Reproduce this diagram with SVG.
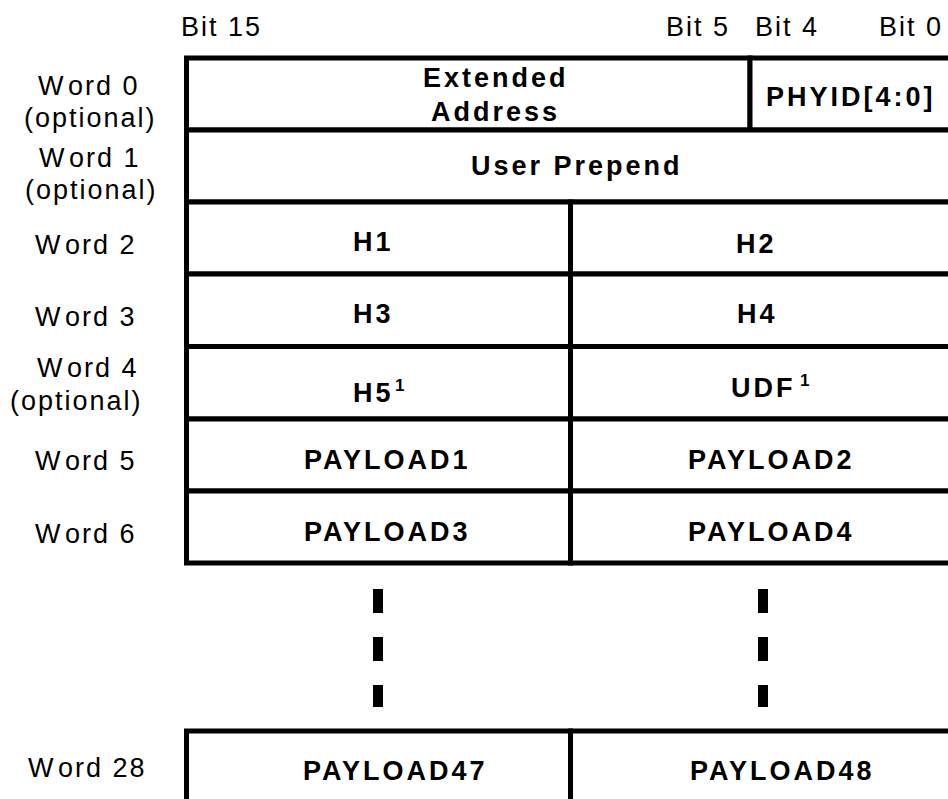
<svg xmlns="http://www.w3.org/2000/svg" width="948" height="799" viewBox="0 0 948 799">
<style>
  .cell { fill: #ffffff; stroke: #000000; stroke-width: 5; }
  .lbl { font-family: "Liberation Sans", Arial, sans-serif; font-size: 27px; letter-spacing: 2px; fill: #000; }
  .fld { font-family: "Liberation Sans", Arial, sans-serif; font-size: 27px; font-weight: bold; letter-spacing: 3px; fill: #000; }
  .sup { font-family: "Liberation Sans", Arial, sans-serif; font-size: 17px; font-weight: bold; fill: #000; }
  .dash { fill: #000; }
</style>
<rect x="0" y="0" width="948" height="799" fill="#ffffff"/>

<g id="bit-labels">
  <text class="lbl" x="181" y="36">Bit 15</text>
  <text class="lbl" x="666" y="36">Bit 5</text>
  <text class="lbl" x="755" y="36">Bit 4</text>
  <text class="lbl" x="879" y="36">Bit 0</text>
</g>

<g id="word-labels">
  <text class="lbl" x="38" y="95">W<tspan dx="3">ord 0</tspan></text>
  <text class="lbl" x="24" y="127">(optional)</text>
  <text class="lbl" x="39" y="167">W<tspan dx="3">ord 1</tspan></text>
  <text class="lbl" x="25" y="199">(optional)</text>
  <text class="lbl" x="35" y="254">W<tspan dx="3">ord 2</tspan></text>
  <text class="lbl" x="35" y="326">W<tspan dx="3">ord 3</tspan></text>
  <text class="lbl" x="37" y="377">W<tspan dx="3">ord 4</tspan></text>
  <text class="lbl" x="10" y="410">(optional)</text>
  <text class="lbl" x="35" y="470">W<tspan dx="3">ord 5</tspan></text>
  <text class="lbl" x="35" y="543">W<tspan dx="3">ord 6</tspan></text>
  <text class="lbl" x="28" y="777">W<tspan dx="3">ord 28</tspan></text>
</g>

<g id="word0-ext">
  <rect class="cell" x="186.5" y="58" width="563.5" height="72"/>
  <text class="fld" x="423" y="87">Extended</text>
  <text class="fld" x="431" y="121">Address</text>
</g>
<g id="word0-phyid">
  <rect class="cell" x="750" y="58" width="215" height="72"/>
  <text class="fld" x="766" y="106">PHYID[4:0]</text>
</g>
<g id="word1-user">
  <rect class="cell" x="186.5" y="130" width="778.5" height="72"/>
  <text class="fld" x="471" y="175">User Prepend</text>
</g>
<g id="word2-h1">
  <rect class="cell" x="186.5" y="202" width="384" height="72"/>
  <text class="fld" x="353" y="251">H1</text>
</g>
<g id="word2-h2">
  <rect class="cell" x="570.5" y="202" width="394.5" height="72"/>
  <text class="fld" x="736" y="253">H2</text>
</g>
<g id="word3-h3">
  <rect class="cell" x="186.5" y="274" width="384" height="72.5"/>
  <text class="fld" x="353" y="323">H3</text>
</g>
<g id="word3-h4">
  <rect class="cell" x="570.5" y="274" width="394.5" height="72.5"/>
  <text class="fld" x="737" y="323">H4</text>
</g>
<g id="word4-h5">
  <rect class="cell" x="186.5" y="346.5" width="384" height="72.5"/>
  <text class="fld" x="353" y="402">H5</text>
  <text class="sup" x="395" y="391">1</text>
</g>
<g id="word4-udf">
  <rect class="cell" x="570.5" y="346.5" width="394.5" height="72.5"/>
  <text class="fld" x="731" y="397">UDF</text>
  <text class="sup" x="800" y="386">1</text>
</g>
<g id="word5-p1">
  <rect class="cell" x="186.5" y="419" width="384" height="72"/>
  <text class="fld" x="304" y="469">PAYLOAD1</text>
</g>
<g id="word5-p2">
  <rect class="cell" x="570.5" y="419" width="394.5" height="72"/>
  <text class="fld" x="688" y="469">PAYLOAD2</text>
</g>
<g id="word6-p3">
  <rect class="cell" x="186.5" y="491" width="384" height="72"/>
  <text class="fld" x="304" y="541">PAYLOAD3</text>
</g>
<g id="word6-p4">
  <rect class="cell" x="570.5" y="491" width="394.5" height="72"/>
  <text class="fld" x="688" y="541">PAYLOAD4</text>
</g>

<g id="ellipsis">
  <rect class="dash" x="373" y="589" width="10" height="24"/>
  <rect class="dash" x="373" y="637" width="10" height="24"/>
  <rect class="dash" x="373" y="685" width="10" height="22"/>
  <rect class="dash" x="758" y="589" width="10" height="24"/>
  <rect class="dash" x="758" y="637" width="10" height="24"/>
  <rect class="dash" x="758" y="685" width="10" height="22"/>
</g>

<g id="word28-p47">
  <rect class="cell" x="186.5" y="731" width="384" height="100"/>
  <text class="fld" x="303" y="780">PAYLOAD47</text>
</g>
<g id="word28-p48">
  <rect class="cell" x="570.5" y="731" width="394.5" height="100"/>
  <text class="fld" x="690" y="780">PAYLOAD48</text>
</g>

<g id="connectors"></g>
</svg>
